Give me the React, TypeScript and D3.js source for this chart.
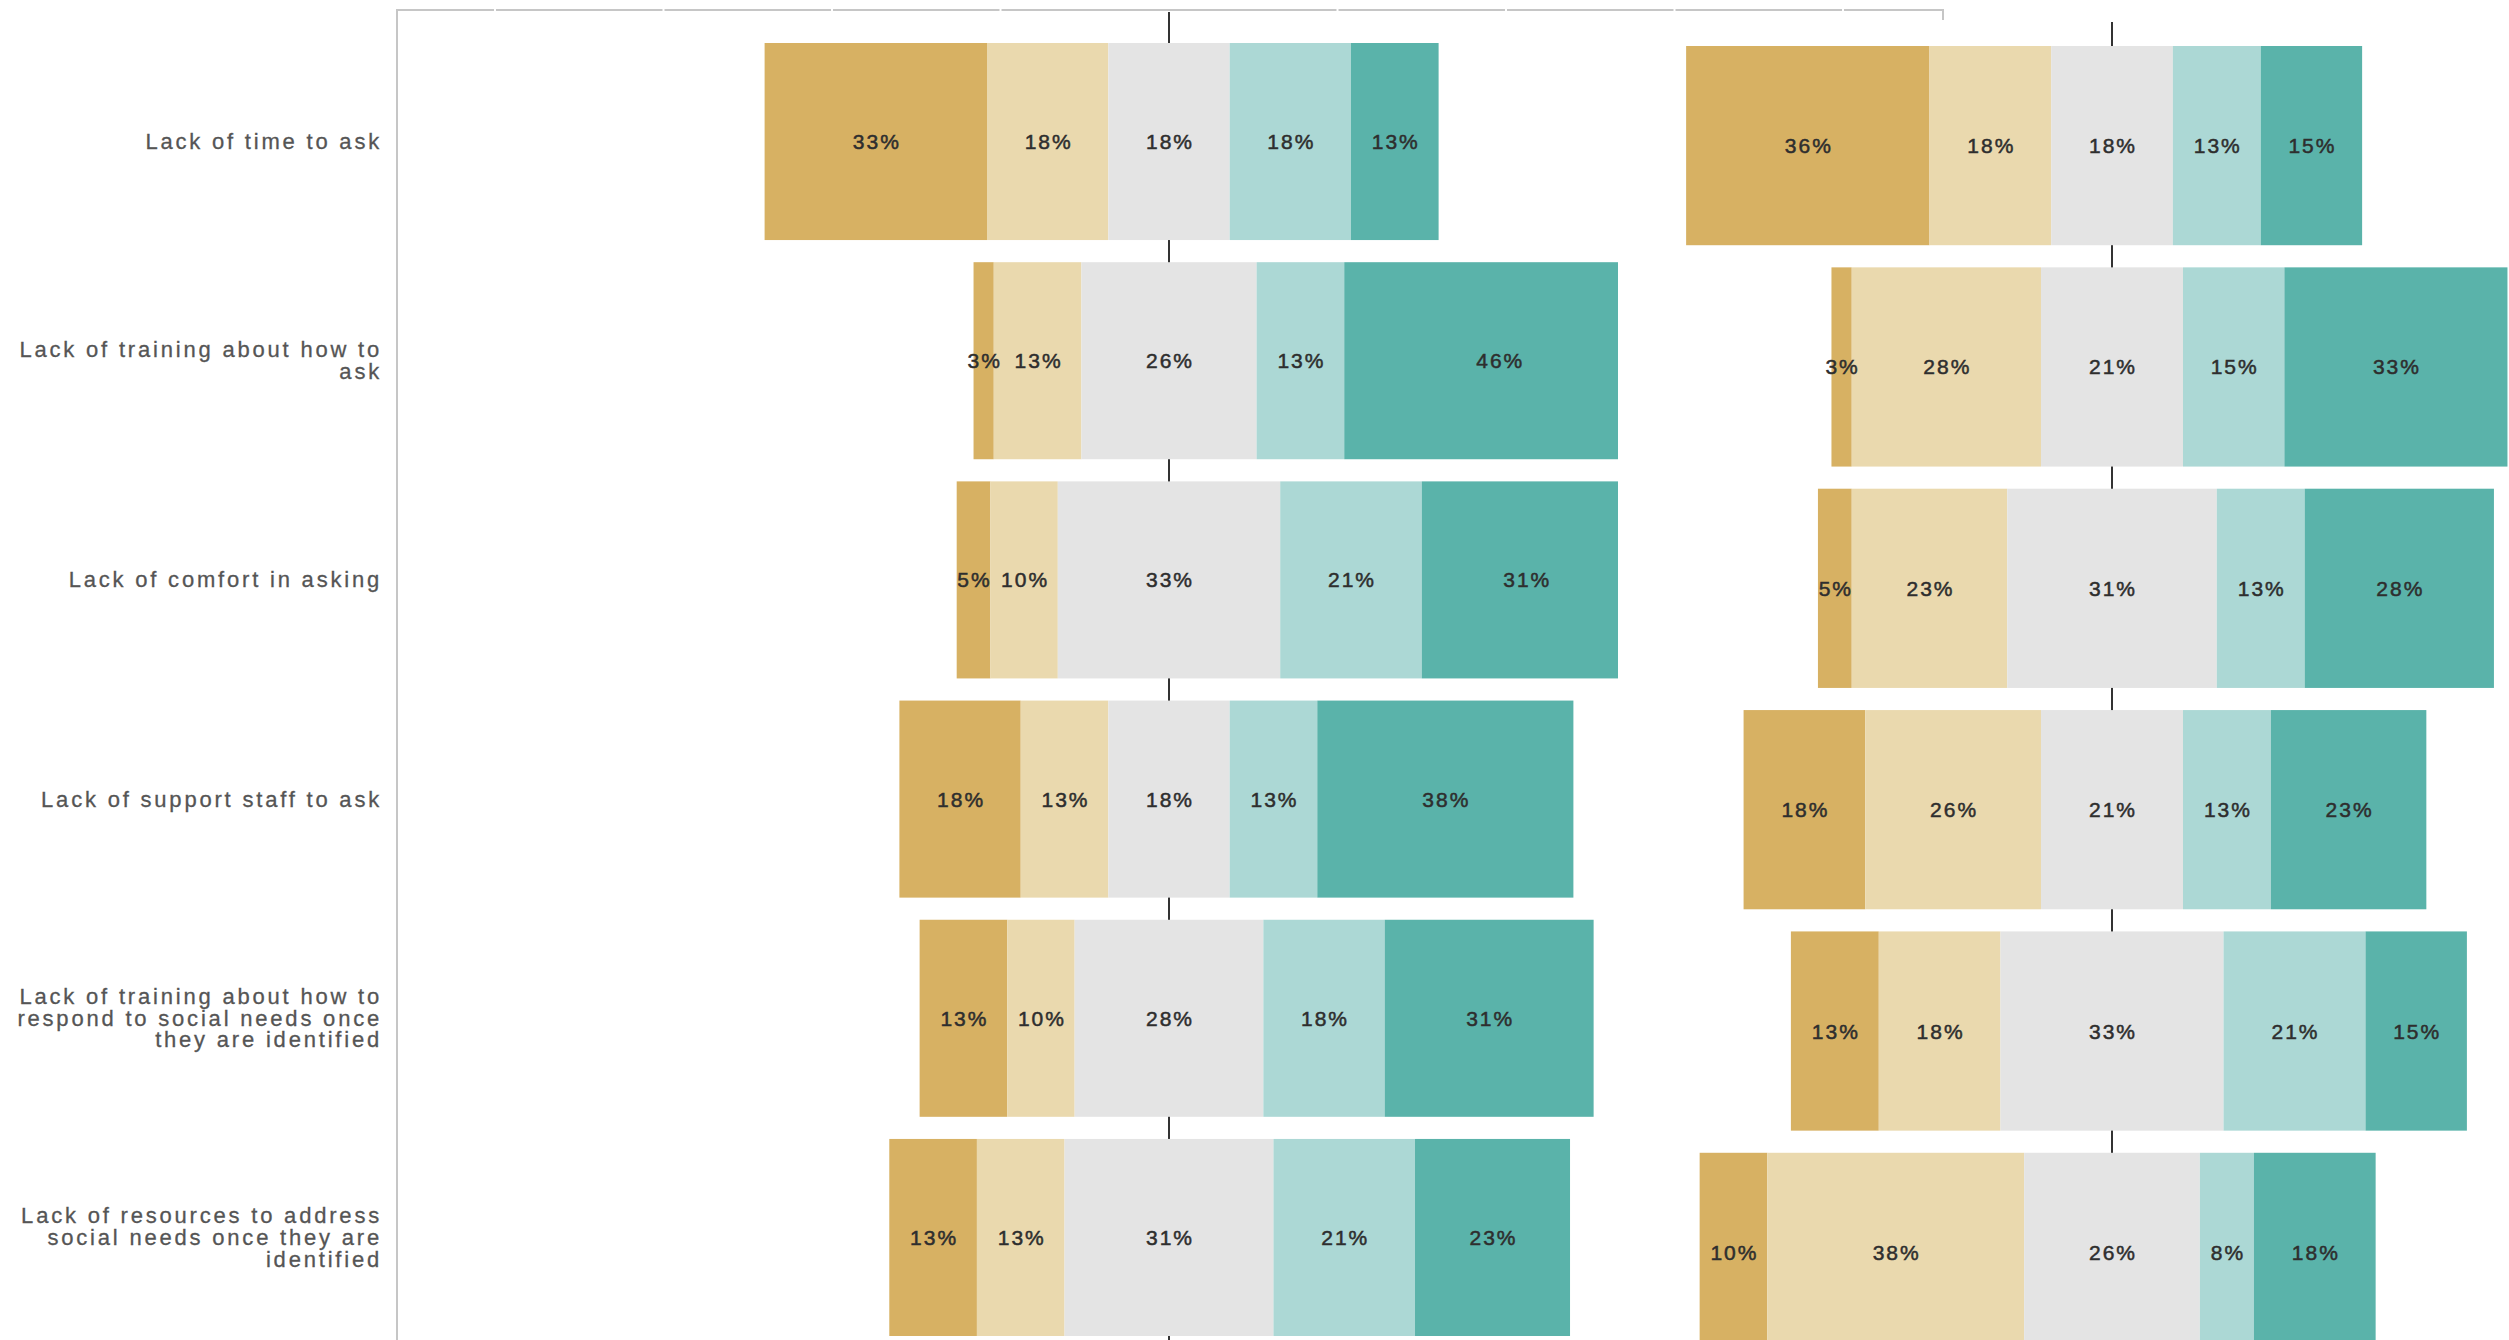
import React from "react";
import * as d3 from "d3";

const categories = [
  "Lack of time to ask",
  "Lack of training about how to ask",
  "Lack of comfort in asking",
  "Lack of support staff to ask",
  "Lack of training about how to respond to social needs once they are identified",
  "Lack of resources to address social needs once they are identified",
];

const categoryLines = [
  ["Lack of time to ask"],
  ["Lack of training about how to", "ask"],
  ["Lack of comfort in asking"],
  ["Lack of support staff to ask"],
  ["Lack of training about how to", "respond to social needs once", "they are identified"],
  ["Lack of resources to address", "social needs once they are", "identified"],
];

const levels = ["1", "2", "3", "4", "5"];
const levelColors = ["#D7B163", "#EAD9AE", "#E4E4E4", "#ACD8D5", "#5AB3AA"];

const leftValues = [
  [33, 18, 18, 18, 13],
  [3, 13, 26, 13, 46],
  [5, 10, 33, 21, 31],
  [18, 13, 18, 13, 38],
  [13, 10, 28, 18, 31],
  [13, 13, 31, 21, 23],
];

const rightValues = [
  [36, 18, 18, 13, 15],
  [3, 28, 21, 15, 33],
  [5, 23, 31, 13, 28],
  [18, 26, 21, 13, 23],
  [13, 18, 33, 21, 15],
  [10, 38, 26, 8, 18],
];

const topTicks = [-100, -75, -50, -25, 0, 25, 50, 75, 100];

const W = 2509;
const H = 1340;
const FONT = "'Liberation Sans', Arial, sans-serif";

function segments(vals: number[]) {
  const start = -(vals[0] + vals[1] + vals[2] / 2);
  let acc = start;
  return vals.map((v, i) => {
    const s = { x0: acc, x1: acc + v, v, i };
    acc += v;
    return s;
  });
}

function Panel({
  values,
  x,
  y,
  clipId,
}: {
  values: number[][];
  x: d3.ScaleLinear<number, number>;
  y: d3.ScaleBand<string>;
  clipId: string;
}) {
  return (
    <g>
      <g clipPath={`url(#${clipId})`}>
        {values.map((row, r) =>
          segments(row).map((s) => (
            <rect
              key={`${r}-${s.i}`}
              x={x(s.x0)}
              y={y(categories[r])}
              width={x(s.x1) - x(s.x0)}
              height={y.bandwidth()}
              fill={levelColors[s.i]}
            />
          ))
        )}
      </g>
      {values.map((row, r) =>
        segments(row).map((s) => (
          <text
            key={`t${r}-${s.i}`}
            x={(x(s.x0) + x(s.x1)) / 2 + 1}
            y={(y(categories[r]) as number) + y.bandwidth() / 2}
            dominantBaseline="central"
            textAnchor="middle"
            fontFamily={FONT}
            fontSize={21}
            letterSpacing={2}
            fill="#2e2e2e"
            stroke="#2e2e2e"
            strokeWidth={0.5}
          >
            {`${s.v}%`}
          </text>
        ))
      )}
    </g>
  );
}

export default function App() {
  const kL = 6.74;
  const cL = 1169;
  const xL = d3.scaleLinear().domain([-100, 100]).range([cL - 100 * kL, cL + 100 * kL]);
  const yL = d3.scaleBand<string>().domain(categories).range([43, 1336]).paddingInner(0.101);

  const kR = 6.76;
  const cR = 2112;
  const xR = d3.scaleLinear().domain([-100, 100]).range([cR - 100 * kR, cR + 100 * kR]);
  const yR = d3.scaleBand<string>().domain(categories).range([46, 1352]).paddingInner(0.1);

  const axisColor = "#c6c6c6";

  return (
    <svg
      width={W}
      height={H}
      style={{ position: "absolute", left: 0, top: 0, background: "#fff" }}
    >
      <defs>
        <clipPath id="clipL">
          <rect x={398} y={0} width={1618 - 398} height={H} />
        </clipPath>
        <clipPath id="clipR">
          <rect x={1640} y={0} width={W - 1640} height={H} />
        </clipPath>
      </defs>

      {/* top frame line */}
      <line x1={397} x2={1943} y1={10} y2={10} stroke={axisColor} strokeWidth={2} />
      <line x1={1943} x2={1943} y1={9} y2={20} stroke={axisColor} strokeWidth={2} />
      {topTicks
        .filter((t) => t !== 0)
        .map((t) => (
          <rect key={t} x={xL(t) - 1} y={8} width={2} height={4} fill="#fff" />
        ))}
      {/* left axis */}
      <line x1={397} x2={397} y1={9} y2={H} stroke={axisColor} strokeWidth={2} />

      {/* center lines */}
      <line x1={xL(0)} x2={xL(0)} y1={12} y2={H} stroke="#333" strokeWidth={2} />
      <line x1={xR(0)} x2={xR(0)} y1={22} y2={H} stroke="#333" strokeWidth={2} />

      <Panel values={leftValues} x={xL} y={yL} clipId="clipL" />
      <Panel values={rightValues} x={xR} y={yR} clipId="clipR" />

      {/* category labels */}
      {categoryLines.map((lines, r) => {
        const cy = (yL(categories[r]) as number) + yL.bandwidth() / 2;
        const lh = 21.6;
        const y0 = cy - ((lines.length - 1) * lh) / 2;
        return (
          <text
            key={r}
            x={382}
            textAnchor="end"
            fontFamily={FONT}
            fontSize={22}
            letterSpacing={2.8}
            fill="#555"
            stroke="#555"
            strokeWidth={0.3}
          >
            {lines.map((ln, i) => (
              <tspan key={i} x={382} y={y0 + i * lh} dominantBaseline="central">
                {ln}
              </tspan>
            ))}
          </text>
        );
      })}
    </svg>
  );
}
